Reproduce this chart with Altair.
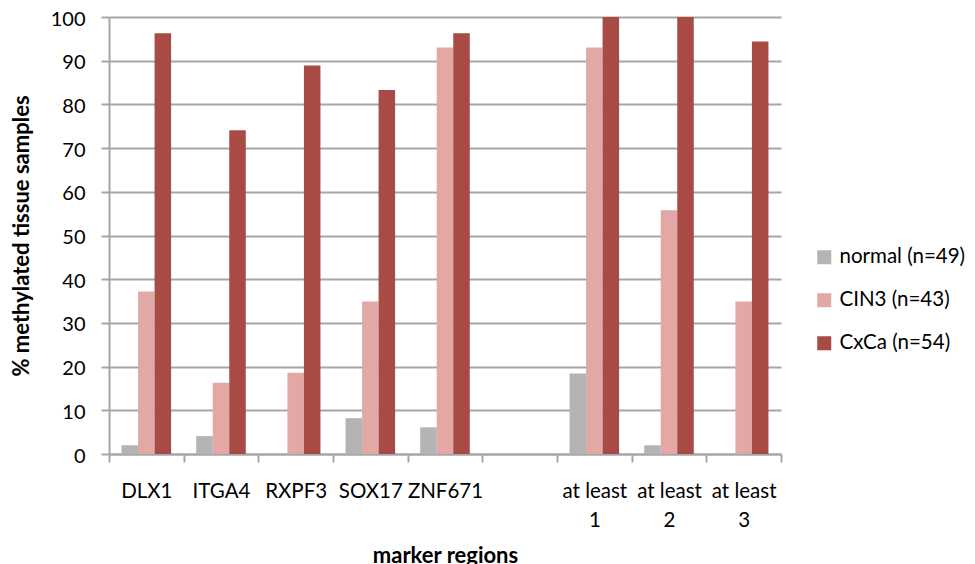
import altair as alt
import pandas as pd

categories = ["DLX1", "ITGA4", "RXPF3", "SOX17", "ZNF671", "_blank", "at least|1", "at least|2", "at least|3"]
groups = ["normal (n=49)", "CIN3 (n=43)", "CxCa (n=54)"]
colors = ["#b4b4b4", "#e1a8a6", "#a84b45"]

normal = [2.0, 4.1, 0.0, 8.2, 6.1, None, 18.4, 2.0, 0.0]
cin3 = [37.2, 16.3, 18.6, 34.9, 93.0, None, 93.0, 55.8, 34.9]
cxca = [96.3, 74.1, 88.9, 83.3, 96.3, None, 100.0, 100.0, 94.4]

rows = []
for g, vals in zip(groups, [normal, cin3, cxca]):
    for c, v in zip(categories, vals):
        if v is not None:
            rows.append({"cat": c, "group": g, "value": v})
df = pd.DataFrame(rows)

FONT = "Lato"
GRID = "#a6a6a6"

chart = alt.Chart(df).mark_bar().encode(
    x=alt.X(
        "cat:N",
        sort=categories,
        scale=alt.Scale(domain=categories, paddingInner=0, paddingOuter=0),
        axis=alt.Axis(
            title="marker regions",
            labelAngle=0,
            labelExpr="(isString(datum.value) && datum.value != '_blank') ? split(datum.value, '|') : ''",
            tickBand="extent",
            tickSize=8,
            tickColor=GRID,
            tickWidth=2,
            domainColor=GRID,
            domainWidth=2,
            labelPadding=19,
            labelBaseline="top",
            labelLineHeight=29,
            labelFontSize=20.5,
            labelFont=FONT,
            labelColor="black",
            titleFont=FONT,
            titleFontSize=22,
            titleFontWeight="bold",
            titleColor="black",
            titlePadding=15,
            grid=False,
        ),
    ),
    xOffset=alt.XOffset("group:N", sort=groups, scale=alt.Scale(domain=groups, paddingInner=0, paddingOuter=0.76)),
    y=alt.Y(
        "value:Q",
        scale=alt.Scale(domain=[0, 100], nice=False),
        axis=alt.Axis(
            title="% methylated tissue samples",
            values=list(range(0, 101, 10)),
            tickSize=8,
            tickColor=GRID,
            tickWidth=2,
            domainColor=GRID,
            domainWidth=2,
            gridColor=GRID,
            gridWidth=2,
            labelPadding=16,
            labelOffset=2,
            labelFontSize=20,
            labelFont=FONT,
            labelColor="black",
            titleFont=FONT,
            titleFontSize=22,
            titleFontWeight="bold",
            titleColor="black",
            titlePadding=17,
        ),
    ),
    color=alt.Color(
        "group:N",
        sort=groups,
        scale=alt.Scale(domain=groups, range=colors),
        legend=alt.Legend(
            title=None,
            orient="none",
            legendX=705,
            legendY=230,
            symbolType="square",
            symbolSize=196,
            symbolStrokeWidth=0,
            labelFont=FONT,
            labelFontSize=20.5,
            labelLimit=400,
            labelColor="black",
            labelOffset=5,
            rowPadding=22,
        ),
    ),
).properties(
    width=672,
    height=437,
    autosize=alt.AutoSizeParams(type="none"),
    padding={"left": 101, "top": 9, "right": 186, "bottom": 112},
).configure_view(stroke=None)

chart.save("out.html", embed_options={"renderer": "svg", "actions": False})
